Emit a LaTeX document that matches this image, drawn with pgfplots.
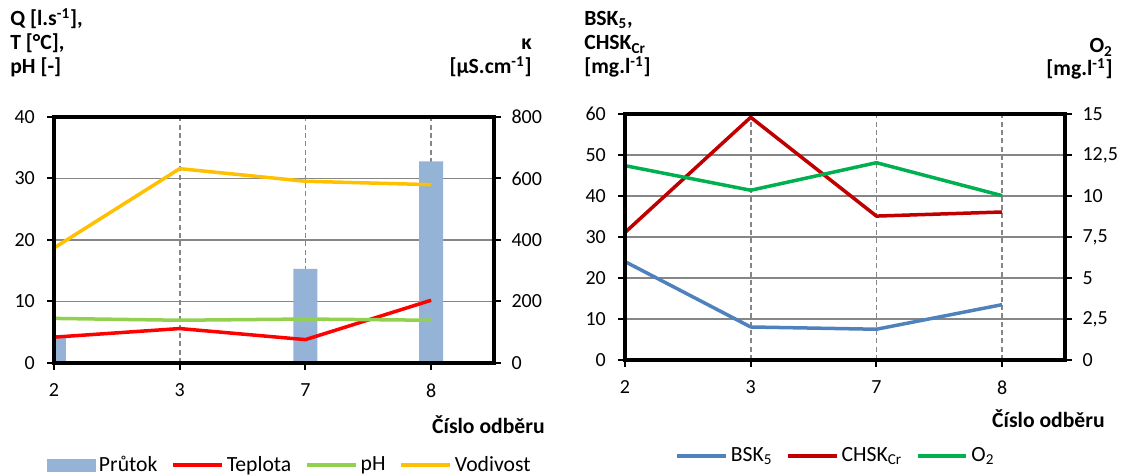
\documentclass[border=0pt]{standalone}
\usepackage{fontspec}
\setmainfont{Carlito}
\usepackage{pgfplots}
\pgfplotsset{compat=1.18}
\definecolor{barblue}{HTML}{95B3D7}
\definecolor{tred}{HTML}{FF0000}
\definecolor{phgreen}{HTML}{92D050}
\definecolor{vyellow}{HTML}{FFC000}
\definecolor{bskblue}{HTML}{4F81BD}
\definecolor{chskred}{HTML}{C00000}
\definecolor{o2green}{HTML}{00B050}
\definecolor{gridgray}{HTML}{868686}
\pgfplotsset{
  base/.style={scale only axis, width=264pt, height=147.6pt, xmin=0, xmax=3.5, anchor=south west,
    axis line style={line width=2.1pt, black}, tick align=outside,
    major tick length=4pt, every tick/.style={black, line width=1.2pt},
    tick label style={font=\fontsize{12}{14}\selectfont, black},
    /pgf/number format/assume math mode=true},
  prim/.style={base, xtick={0,1,2,3}, xticklabels={2,3,7,8}, ytick pos=left, xtick pos=bottom,
    xticklabel style={yshift=-5pt}, yticklabel style={xshift=-4pt},
    ymajorgrids, xmajorgrids,
    major y grid style={gridgray, line width=1.1pt},
    major x grid style={gridgray, line width=1.1pt, dash pattern=on 3pt off 2pt}},
  sec/.style={base, xtick=\empty, ytick pos=right, axis on top,
    yticklabel style={xshift=3pt},
    legend image code/.code={\draw[##1] (0pt,0pt) -- (29pt,0pt);},
    legend style={draw=none, fill=none, legend columns=-1, font=\fontsize{13}{15}\selectfont,
      /tikz/every even column/.append style={column sep=6.5pt}}},
  arealeg/.style={legend image code/.code={\fill[##1] (0pt,-3.6pt) rectangle (29pt,3.6pt);}},
  ser/.style={line width=2.1pt, line join=round, mark=none, forget plot}
}
\begin{document}
\begin{tikzpicture}
\useasboundingbox (0,0) rectangle (678pt,285.6pt);
% ---------- left panel ----------
\begin{axis}[prim, at={(32.4pt,67.8pt)}, ymin=0, ymax=40, ytick={0,10,20,30,40}]
\addplot[ybar, bar width=0.19, fill=barblue, draw=none, forget plot] coordinates {(0,4.5) (2,15.3) (3,32.8)};
\addplot[ser, tred] coordinates {(0,4.2) (1,5.6) (2,3.8) (3,10.2)};
\addplot[ser, phgreen] coordinates {(0,7.25) (1,6.95) (2,7.15) (3,6.95)};
\end{axis}
\begin{axis}[sec, at={(32.4pt,67.8pt)}, ymin=0, ymax=800, ytick={0,200,400,600,800},
  legend style={at={(0.537,-0.415)}, anchor=center}]
\addplot[ser, vyellow] coordinates {(0,374) (1,632) (2,591) (3,580)};
\addlegendimage{barblue, arealeg}
\addlegendentry{Průtok}
\addlegendimage{tred, line width=2.1pt}
\addlegendentry{Teplota}
\addlegendimage{phgreen, line width=2.1pt}
\addlegendentry{pH}
\addlegendimage{vyellow, line width=2.1pt}
\addlegendentry{Vodivost}
\end{axis}
% ---------- right panel ----------
\begin{axis}[prim, at={(375pt,69.6pt)}, ymin=0, ymax=60, ytick={0,10,20,30,40,50,60}]
\addplot[ser, bskblue] coordinates {(0,24) (1,8.05) (2,7.5) (3,13.5)};
\addplot[ser, chskred] coordinates {(0,31.1) (1,59.2) (2,35.1) (3,36.1)};
\end{axis}
\begin{axis}[sec, at={(375pt,69.6pt)}, ymin=0, ymax=15, ytick={0,2.5,5,7.5,10,12.5,15},
  /pgf/number format/use comma,
  legend style={at={(0.481,-0.39)}, anchor=center}]
\addplot[ser, o2green] coordinates {(0,11.85) (1,10.35) (2,12.03) (3,10.02)};
\addlegendimage{bskblue, line width=2.1pt}
\addlegendentry{BSK\textsubscript{5}}
\addlegendimage{chskred, line width=2.1pt}
\addlegendentry{CHSK\textsubscript{Cr}}
\addlegendimage{o2green, line width=2.1pt}
\addlegendentry{O\textsubscript{2}}
\end{axis}
% ---------- titles ----------
\begin{scope}[every node/.style={inner sep=0pt, font=\fontsize{13}{15}\selectfont\bfseries}]
\node[anchor=base west] at (6pt,270pt) {Q [l.s\textsuperscript{-1}],};
\node[anchor=base west] at (6pt,255.6pt) {T [°C],};
\node[anchor=base west] at (6pt,241.2pt) {pH [-]};
\node[anchor=base east] at (319.2pt,255.6pt) {κ};
\node[anchor=base east] at (319.2pt,241.2pt) {[µS.cm\textsuperscript{-1}]};
\node[anchor=base east] at (327pt,25.2pt) {Číslo odběru};
\node[anchor=base west] at (350.4pt,270pt) {BSK\textsubscript{5},};
\node[anchor=base west] at (350.4pt,255.6pt) {CHSK\textsubscript{Cr}};
\node[anchor=base west] at (350.4pt,241.2pt) {[mg.l\textsuperscript{-1}]};
\node[anchor=base east] at (667.8pt,253.8pt) {O\textsubscript{2}};
\node[anchor=base east] at (667.8pt,240pt) {[mg.l\textsuperscript{-1}]};
\node[anchor=base east] at (663pt,28.8pt) {Číslo odběru};
\end{scope}
\end{tikzpicture}
\end{document}
